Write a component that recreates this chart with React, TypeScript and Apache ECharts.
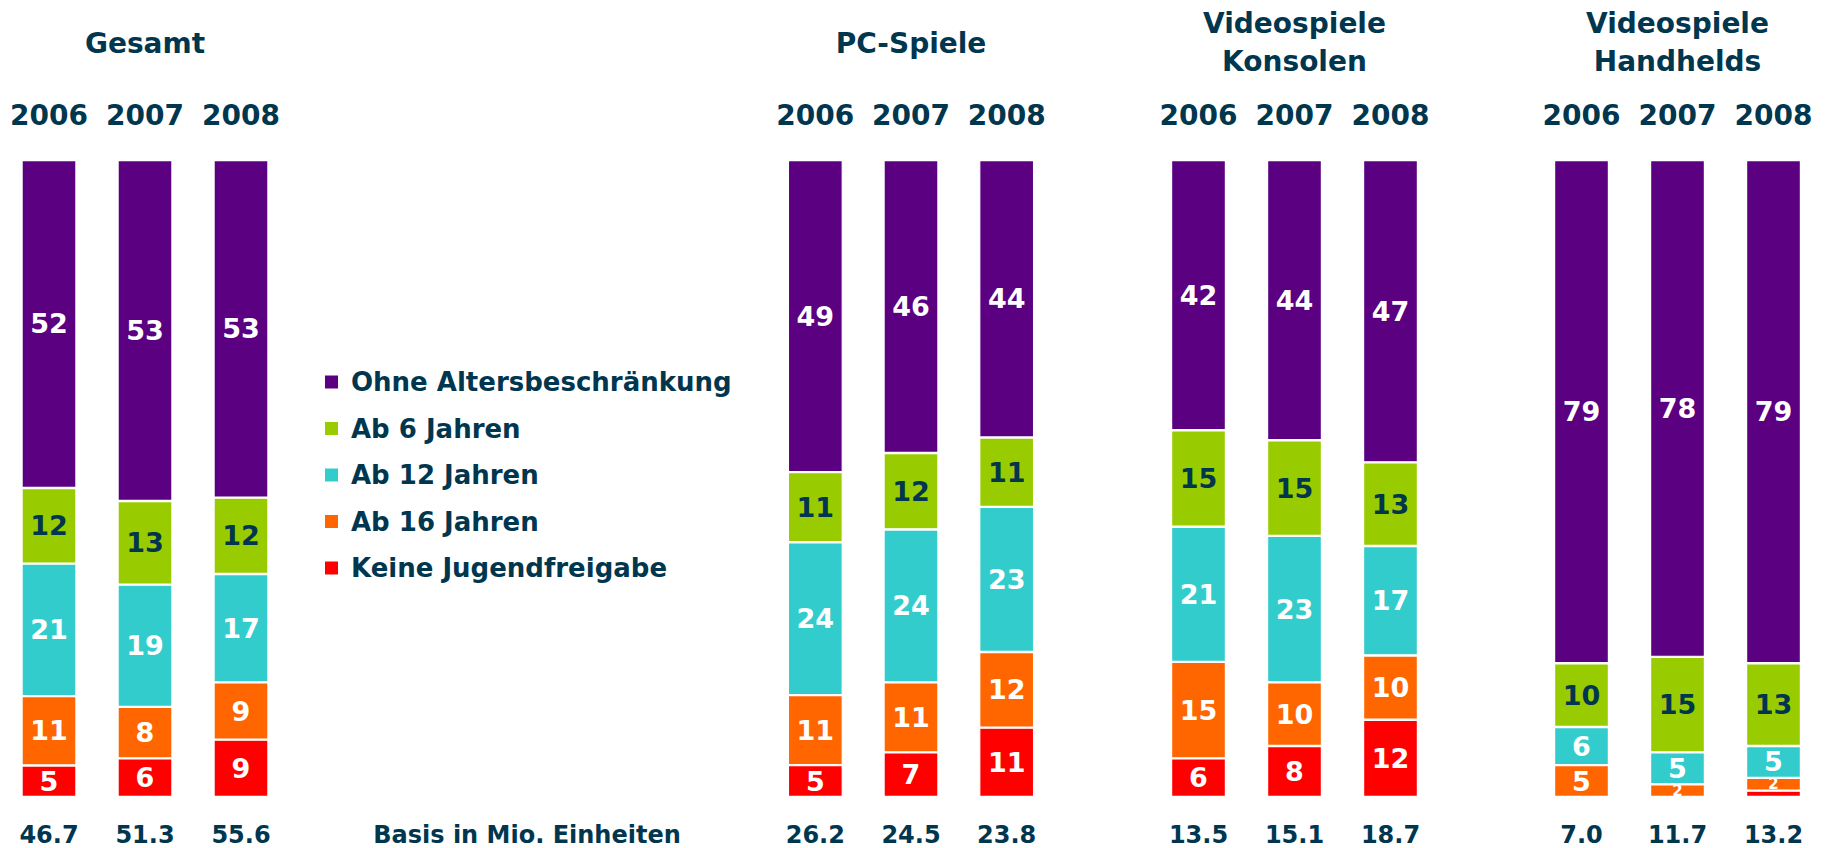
import React, { useEffect, useRef } from 'react';
import * as echarts from 'echarts';

const groupTitles = ['Gesamt', 'PC-Spiele', 'Videospiele\nKonsolen', 'Videospiele\nHandhelds'];
const years = ['2006', '2007', '2008'];
const seriesNames = ['Keine Jugendfreigabe', 'Ab 16 Jahren', 'Ab 12 Jahren', 'Ab 6 Jahren', 'Ohne Altersbeschränkung'];
const legendOrder = ['Ohne Altersbeschränkung', 'Ab 6 Jahren', 'Ab 12 Jahren', 'Ab 16 Jahren', 'Keine Jugendfreigabe'];
// values per group (Gesamt, PC, Konsolen, Handhelds) per year (2006, 2007, 2008), in %
const keineJugendfreigabe = [[5, 6, 9], [5, 7, 11], [6, 8, 12], [0, 0, 1]];
const ab16Jahren = [[11, 8, 9], [11, 11, 12], [15, 10, 10], [5, 2, 2]];
const ab12Jahren = [[21, 19, 17], [24, 24, 23], [21, 23, 17], [6, 5, 5]];
const ab6Jahren = [[12, 13, 12], [11, 12, 11], [15, 15, 13], [10, 15, 13]];
const ohneAltersbeschraenkung = [[52, 53, 53], [49, 46, 44], [42, 44, 47], [79, 78, 79]];
const basisLabels = [['46.7', '51.3', '55.6'], ['26.2', '24.5', '23.8'], ['13.5', '15.1', '18.7'], ['7.0', '11.7', '13.2']];
const basisTitle = 'Basis in Mio. Einheiten';

const seriesValues = [keineJugendfreigabe, ab16Jahren, ab12Jahren, ab6Jahren, ohneAltersbeschraenkung];
const seriesColors = ['#ff0000', '#ff6600', '#33cccc', '#99cc00', '#5a0080'];
const labelColors = ['#ffffff', '#ffffff', '#ffffff', '#01364f', '#ffffff'];

const TEXT = '#01364f';
const FONT = "'DejaVu Sans', Verdana, sans-serif";
const gridLefts = [1, 767.5, 1150.5, 1533.5];
const gridWidths = [288, 287, 288, 288];
const GRID_TOP = 160;
const GRID_BOTTOM = 51;

export default function App() {
  const ref = useRef<HTMLDivElement>(null);
  useEffect(() => {
    if (!ref.current) return;
    const chart = echarts.init(ref.current, undefined, { renderer: 'svg' });

    const grids: any[] = [];
    const xAxes: any[] = [];
    const yAxes: any[] = [];
    const series: any[] = [];
    const graphics: any[] = [];

    groupTitles.forEach((title, g) => {
      grids.push({ left: gridLefts[g], width: gridWidths[g], top: GRID_TOP, bottom: GRID_BOTTOM });
      xAxes.push({
        type: 'category', gridIndex: g, position: 'top', data: years,
        axisLine: { show: false }, axisTick: { show: false },
        axisLabel: { interval: 0, fontSize: 28, fontWeight: 'bold', color: TEXT, fontFamily: FONT, margin: 31, lineHeight: 28 },
      });
      xAxes.push({
        type: 'category', gridIndex: g, position: 'bottom', data: basisLabels[g],
        axisLine: { show: false }, axisTick: { show: false },
        axisLabel: { interval: 0, fontSize: 24, fontWeight: 'bold', color: TEXT, fontFamily: FONT, margin: 26, lineHeight: 24 },
      });
      yAxes.push({ type: 'value', gridIndex: g, min: 0, max: 100, show: false, splitLine: { show: false } });

      const sums = years.map((_, i) => seriesValues.reduce((acc, sv) => acc + sv[g][i], 0));
      seriesValues.forEach((sv, s) => {
        series.push({
          type: 'bar', name: seriesNames[s], xAxisIndex: g * 2, yAxisIndex: g, stack: 'st' + g,
          barWidth: 55,
          data: years.map((_, i) => {
            const raw = sv[g][i];
            return {
              value: (raw / sums[i]) * 100,
              raw,
              label: raw <= 2 ? { fontSize: 15 } : undefined,
            };
          }),
          itemStyle: { color: seriesColors[s], borderColor: '#ffffff', borderWidth: 1.2 },
          label: {
            show: true, position: 'inside', fontSize: 27, fontWeight: 'bold', fontFamily: FONT,
            color: labelColors[s],
            formatter: (p: any) => (p.data.raw > 1 ? String(p.data.raw) : ''),
          },
        });
      });

      const cx = gridLefts[g] + gridWidths[g] / 2;
      const lines = title.split('\n');
      lines.forEach((ln, li) => {
        const y = lines.length === 1 ? 43 : (li === 0 ? 23 : 61);
        graphics.push({
          type: 'text', x: cx, y,
          style: { text: ln, fill: TEXT, font: `bold 28px ${FONT}`, textAlign: 'center', textVerticalAlign: 'middle' },
        });
      });
    });

    graphics.push({
      type: 'text', x: 527, y: 835,
      style: { text: basisTitle, fill: TEXT, font: `bold 24px ${FONT}`, textAlign: 'center', textVerticalAlign: 'middle' },
    });

    chart.setOption({
      animation: false,
      backgroundColor: '#ffffff',
      grid: grids,
      xAxis: xAxes,
      yAxis: yAxes,
      series,
      legend: {
        data: legendOrder, orient: 'vertical', left: 323, top: 369, padding: 0,
        icon: 'rect', itemWidth: 15, itemHeight: 15, itemGap: 20.5, selectedMode: false,
        textStyle: { fontSize: 26, fontWeight: 'bold', color: TEXT, fontFamily: FONT, lineHeight: 26, padding: [0, 0, 0, 7] },
      },
      graphic: graphics,
    });
    return () => chart.dispose();
  }, []);
  return <div ref={ref} style={{ position: 'fixed', left: 0, top: 0, width: 1825, height: 848 }} />;
}
